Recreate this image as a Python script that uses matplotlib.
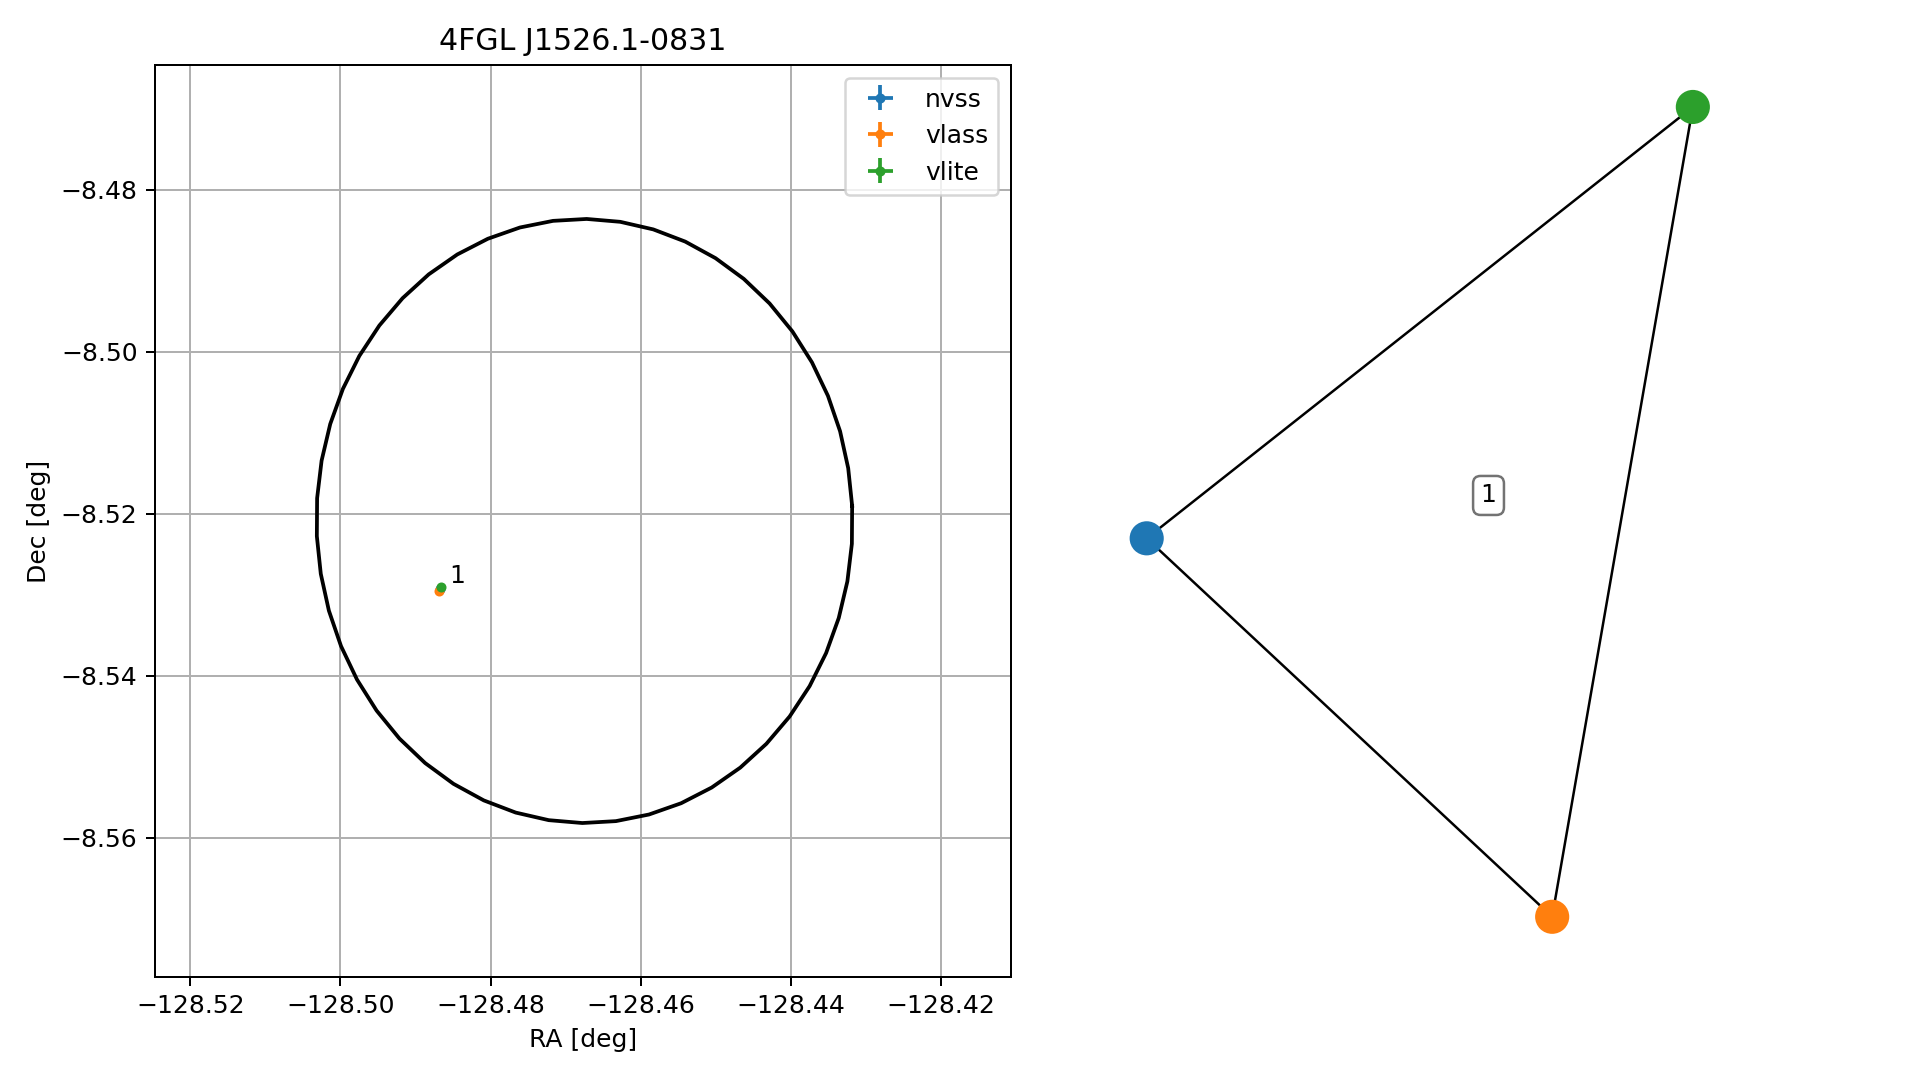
import matplotlib
matplotlib.use('Agg')
import matplotlib.pyplot as plt
import numpy as np

# source position and 95% ellipse (deg)
title = '4FGL J1526.1-0831'
ell_center = (-128.4675, -8.5209)
ell_axes = (0.0357, 0.0373)
ell_angle = 3.0
n_vertices = 50

# radio counterparts
surveys = ['nvss', 'vlass', 'vlite']
colors = ['tab:blue', 'tab:orange', 'tab:green']
ra = [-128.4868, -128.4869, -128.4866]
dec = [-8.5293, -8.5295, -8.5290]
ra_err = [0.0003, 0.0002, 0.0002]
dec_err = [0.0003, 0.0002, 0.0002]
match_label = '1'

# graph layout of the match (axes units)
node_x = [0.071, 0.708, 0.929]
node_y = [0.481, 0.066, 0.954]
edges = [(0, 1), (0, 2), (1, 2)]
graph_label_pos = (0.608, 0.528)

fig = plt.figure(figsize=(1919 / 180, 1080 / 180), dpi=180)
ax = fig.add_axes([0.0808, 0.0954, 0.446, 0.8444])

t = np.linspace(0, 2 * np.pi, n_vertices + 1)
th = np.radians(ell_angle)
ex = ell_center[0] + ell_axes[0] * np.cos(t) * np.cos(th) - ell_axes[1] * np.sin(t) * np.sin(th)
ey = ell_center[1] + ell_axes[0] * np.cos(t) * np.sin(th) + ell_axes[1] * np.sin(t) * np.cos(th)
ax.plot(ex, ey, c='k')

for i in range(len(surveys)):
    ax.errorbar(ra[i], dec[i], xerr=ra_err[i], yerr=dec_err[i], fmt='o', ms=3,
                c=colors[i], label=surveys[i])
ax.annotate(match_label, (ra[1], dec[1]), xytext=(4, 3), textcoords='offset points')

ax.set_xlim(-128.5247, -128.4107)
ax.set_ylim(-8.5772, -8.4646)
ax.set_xticks(np.arange(-128.52, -128.419, 0.02))
ax.set_yticks([-8.56, -8.54, -8.52, -8.50, -8.48])
ax.set_xlabel('RA [deg]')
ax.set_ylabel('Dec [deg]')
ax.set_title(title)
ax.grid()
ax.legend(loc='upper right')

ax2 = fig.add_axes([0.574, 0.0954, 0.3317, 0.8444])
for a, b in edges:
    ax2.plot([node_x[a], node_x[b]], [node_y[a], node_y[b]], c='k', lw=1, zorder=1)
ax2.scatter(node_x, node_y, s=160, c=colors, zorder=2)
ax2.text(graph_label_pos[0], graph_label_pos[1], match_label, ha='center', va='center',
         bbox=dict(boxstyle='round', fc='white', ec='0.45'))
ax2.set_xlim(0, 1)
ax2.set_ylim(0, 1)
ax2.axis('off')

fig.savefig('out.png', dpi=180)
